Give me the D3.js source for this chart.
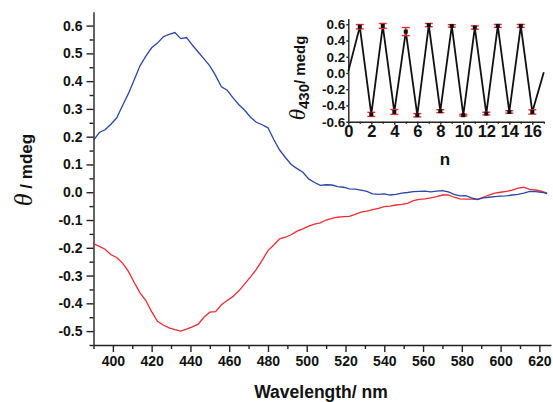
<!DOCTYPE html>
<html><head><meta charset="utf-8">
<script src="https://cdn.jsdelivr.net/npm/d3@7"></script>
<style>html,body{margin:0;padding:0;background:#fff;}svg{display:block;}</style>
</head><body>
<svg id="c" width="553" height="402"></svg>
<script>
const wavelengths = d3.range(390, 625, 3);
const blueValues = [0.187,0.215,0.225,0.245,0.268,0.312,0.355,0.405,0.455,0.49,0.52,0.537,0.56,0.568,0.575,0.553,0.557,0.53,0.505,0.48,0.455,0.42,0.38,0.367,0.34,0.315,0.295,0.27,0.252,0.243,0.232,0.19,0.152,0.125,0.1,0.085,0.072,0.048,0.035,0.025,0.027,0.026,0.02,0.018,0.012,0.011,0.008,0.003,-0.006,-0.008,-0.006,-0.01,-0.008,-0.003,-0.001,0.002,0.003,0.004,0.001,0.004,0.006,0.001,-0.008,-0.013,-0.012,-0.02,-0.026,-0.02,-0.018,-0.016,-0.014,-0.013,-0.01,-0.008,-0.003,0.003,0.002,0.0,-0.005];
const redValues = [-0.185,-0.195,-0.205,-0.225,-0.235,-0.255,-0.285,-0.325,-0.362,-0.39,-0.43,-0.465,-0.478,-0.488,-0.495,-0.5,-0.493,-0.485,-0.475,-0.45,-0.432,-0.43,-0.405,-0.39,-0.375,-0.355,-0.33,-0.305,-0.278,-0.245,-0.21,-0.19,-0.168,-0.162,-0.153,-0.14,-0.132,-0.122,-0.115,-0.11,-0.1,-0.094,-0.09,-0.088,-0.087,-0.08,-0.072,-0.068,-0.063,-0.058,-0.052,-0.05,-0.046,-0.044,-0.04,-0.03,-0.026,-0.024,-0.02,-0.016,-0.01,-0.01,-0.018,-0.024,-0.025,-0.025,-0.026,-0.018,-0.01,-0.003,0.0,0.003,0.008,0.015,0.018,0.01,0.008,0.004,-0.003];
const xTicks = [400,420,440,460,480,500,520,540,560,580,600,620];
const yTicks = [-0.5,-0.4,-0.3,-0.2,-0.1,0.0,0.1,0.2,0.3,0.4,0.5,0.6];

const insetN = d3.range(0, 18);
const insetValues = [0.02,0.57,-0.51,0.58,-0.48,0.51,-0.52,0.59,-0.47,0.58,-0.52,0.56,-0.50,0.58,-0.48,0.58,-0.48,0.01];
const insetErrors = [0,0.027,0.025,0.03,0.03,0.05,0.02,0.02,0.018,0.015,0.01,0.02,0.016,0.018,0.015,0.018,0.027,0];
const insetXTicks = [0,2,4,6,8,10,12,14,16];
const insetYTicks = [-0.6,-0.4,-0.2,0.0,0.2,0.4,0.6];

const svg = d3.select('#c');
const FONT = 'Liberation Sans, Arial, sans-serif';
const fmt = v => { const s = Math.abs(v).toFixed(1); return (v < -1e-9 ? '-' : '') + s; };

// main scales
const x = d3.scaleLinear().domain([390, 626]).range([93.5, 551]);
const y = d3.scaleLinear().domain([-0.55, 0.65]).range([345, 11.7]);

// x axis
const gx = svg.append('g').attr('transform', 'translate(0,345)');
gx.call(d3.axisBottom(x).tickValues(xTicks).tickSize(7).tickPadding(4).tickSizeOuter(0).tickFormat(d3.format('d')));
gx.append('g').call(d3.axisBottom(x).tickValues(d3.range(390, 621, 10).filter(v => v % 20 !== 0)).tickSize(4).tickFormat('').tickSizeOuter(0))
  .select('.domain').remove();
gx.selectAll('text').attr('font-family', FONT).attr('font-weight', 'bold').attr('font-size', 14).attr('fill', '#111');

// y axis
const gy = svg.append('g').attr('transform', 'translate(93.5,0)');
gy.call(d3.axisLeft(y).tickValues(yTicks).tickSize(7).tickPadding(4).tickSizeOuter(0).tickFormat(fmt));
gy.append('g').call(d3.axisLeft(y).tickValues(d3.range(-11, 13).map(i => i * 0.05).filter((v, i) => Math.round(v * 100) % 10 !== 0)).tickSize(4).tickFormat('').tickSizeOuter(0))
  .select('.domain').remove();
gy.selectAll('text').attr('font-family', FONT).attr('font-weight', 'bold').attr('font-size', 14).attr('fill', '#111');
svg.selectAll('.domain, .tick line').attr('stroke', '#222').attr('stroke-width', 1.4);

// series
const line = d3.line().x((d, i) => x(wavelengths[i])).y(d => y(d));
svg.append('path').datum(redValues).attr('d', line).attr('fill', 'none').attr('stroke', '#ee2a33').attr('stroke-width', 1.3);
svg.append('path').datum(blueValues).attr('d', line).attr('fill', 'none').attr('stroke', '#2c47a6').attr('stroke-width', 1.3);

// axis titles
svg.append('text').attr('x', 321).attr('y', 398).attr('text-anchor', 'middle')
  .attr('font-family', FONT).attr('font-weight', 'bold').attr('font-size', 17.5).attr('fill', '#111').text('Wavelength/ nm');
const yt = svg.append('text').attr('transform', 'translate(32,170) rotate(-90)').attr('text-anchor', 'middle').attr('fill', '#111');
yt.append('tspan').attr('font-family', 'Liberation Serif, Times New Roman, serif').attr('font-style', 'italic').attr('font-size', 26).text('θ');
yt.append('tspan').attr('font-family', FONT).attr('font-weight', 'bold').attr('font-size', 17).text(' / mdeg');

// inset
const ix = d3.scaleLinear().domain([0, 17]).range([348.3, 543.8]);
const iy = d3.scaleLinear().domain([-0.6, 0.67]).range([121.7, 18.6]);
const igx = svg.append('g').attr('transform', 'translate(0,121.7)');
igx.call(d3.axisBottom(ix).tickValues(insetXTicks).tickSize(3).tickPadding(1).tickSizeOuter(0).tickFormat(d3.format('d')));
igx.append('g').call(d3.axisBottom(ix).tickValues(d3.range(1, 18, 2)).tickSize(2).tickFormat('').tickSizeOuter(0)).select('.domain').remove();
igx.selectAll('text').attr('font-family', FONT).attr('font-weight', 'bold').attr('font-size', 16.5).attr('fill', '#111');
const igy = svg.append('g').attr('transform', 'translate(348.3,0)');
igy.call(d3.axisLeft(iy).tickValues(insetYTicks).tickSize(2).tickPadding(1).tickSizeOuter(0).tickFormat(fmt));
igy.selectAll('text').attr('font-family', FONT).attr('font-weight', 'bold').attr('font-size', 13.5).attr('fill', '#111');
igx.selectAll('.domain, .tick line').attr('stroke', '#222').attr('stroke-width', 1.4);
igy.selectAll('.domain, .tick line').attr('stroke', '#222').attr('stroke-width', 1.4);

const iline = d3.line().x((d, i) => ix(insetN[i])).y(d => iy(d));
svg.append('path').datum(insetValues).attr('d', iline).attr('fill', 'none').attr('stroke', '#111').attr('stroke-width', 1.8);
const eb = svg.append('g').attr('stroke', '#f02a2a').attr('stroke-width', 1.4);
insetValues.forEach((v, i) => {
  const e = insetErrors[i];
  if (!e) return;
  const cx = ix(insetN[i]);
  eb.append('line').attr('x1', cx).attr('x2', cx).attr('y1', iy(v - e)).attr('y2', iy(v + e));
  eb.append('line').attr('x1', cx - 4).attr('x2', cx + 4).attr('y1', iy(v - e)).attr('y2', iy(v - e));
  eb.append('line').attr('x1', cx - 4).attr('x2', cx + 4).attr('y1', iy(v + e)).attr('y2', iy(v + e));
});
svg.append('g').selectAll('rect').data(insetValues.slice(1, 17)).join('rect')
  .attr('x', (d, i) => ix(insetN[i + 1]) - 2).attr('y', d => iy(d) - 2).attr('width', 4).attr('height', 4).attr('fill', '#111');

const it = svg.append('text').attr('transform', 'translate(305,78) rotate(-90)').attr('text-anchor', 'middle').attr('fill', '#111');
it.append('tspan').attr('font-family', 'Liberation Serif, Times New Roman, serif').attr('font-style', 'italic').attr('font-size', 23).text('θ');
it.append('tspan').attr('font-family', FONT).attr('font-weight', 'bold').attr('font-size', 15).attr('dy', 4).text('430');
it.append('tspan').attr('font-family', FONT).attr('font-weight', 'bold').attr('font-size', 15).attr('dy', -4).text('/ medg');
svg.append('text').attr('x', 445).attr('y', 165).attr('text-anchor', 'middle')
  .attr('font-family', FONT).attr('font-weight', 'bold').attr('font-size', 17).attr('fill', '#111').text('n');
</script>
</body></html>
